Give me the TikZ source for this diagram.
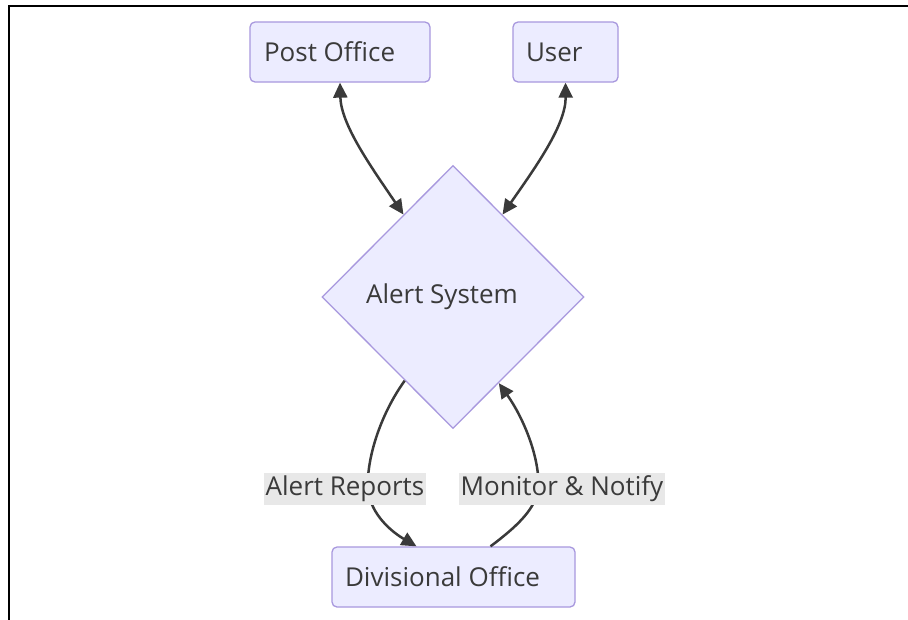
\documentclass[tikz,border=0pt]{standalone}
\usepackage{fontspec}
\setmainfont{Open Sans}
\usetikzlibrary{shapes.geometric,arrows.meta,calc}
\definecolor{nodefill}{HTML}{ECECFF}
\definecolor{nodeborder}{HTML}{A898DE}
\definecolor{ink}{HTML}{3A3A3A}
\definecolor{lblbg}{HTML}{E8E8E8}
\begin{document}
\begin{tikzpicture}[x=1pt,y=-1pt,
  txt/.style={font=\fontsize{26}{30}\selectfont, text=ink},
  box/.style={txt, draw=nodeborder, fill=nodefill, rounded corners=5pt, line width=1.3pt, minimum height=60pt, inner sep=0pt},
  dia/.style={txt, diamond, draw=nodeborder, fill=nodefill, line width=1.3pt, minimum width=262pt, minimum height=263pt, inner sep=0pt, aspect=1},
  lbl/.style={txt, fill=lblbg, inner xsep=2pt, inner ysep=0pt, minimum height=32pt},
  conn/.style={draw=ink, line width=2.5pt},
  tipA/.tip={Triangle[length=15pt,width=14pt]}
]
\useasboundingbox (0,0) rectangle (908,619);
\fill[white] (0,0) rectangle (908,619);
\draw[line width=2.5pt, line cap=rect] (9,619) -- (9,6) -- (908,6);

\node[box, minimum width=180pt] (po) at (340,52) {\makebox[152pt][l]{Post Office}};
\node[box, minimum width=105pt] (us) at (565.5,52) {\makebox[79pt][l]{User}};
\node[dia] (as) at (453,297) {\hspace*{-22pt}Alert System};
\node[box, minimum width=243pt] (dv) at (453.5,577) {\makebox[217pt][l]{Divisional Office}};

\draw[conn, tipA-tipA] (po.south) .. controls (341,125) and (372,168) .. (as.121);
\draw[conn, tipA-tipA] (us.south) .. controls (566,125) and (535,168) .. (as.59);
\draw[conn, -tipA] (as.240) .. controls (380,415) and (366,460) .. (368,490)
  .. controls (371,515) and (392,532) .. ($(dv.north)+(-37,0)$);
\draw[conn, -tipA] ($(dv.north)+(37,0)$) .. controls (515,528) and (535,510) .. (538,490)
  .. controls (541,462) and (525,420) .. (as.298);

\node[lbl] (l1) at (345,489) {Alert Reports};
\node[lbl] (l2) at (562,489) {Monitor \& Notify};
\end{tikzpicture}
\end{document}
